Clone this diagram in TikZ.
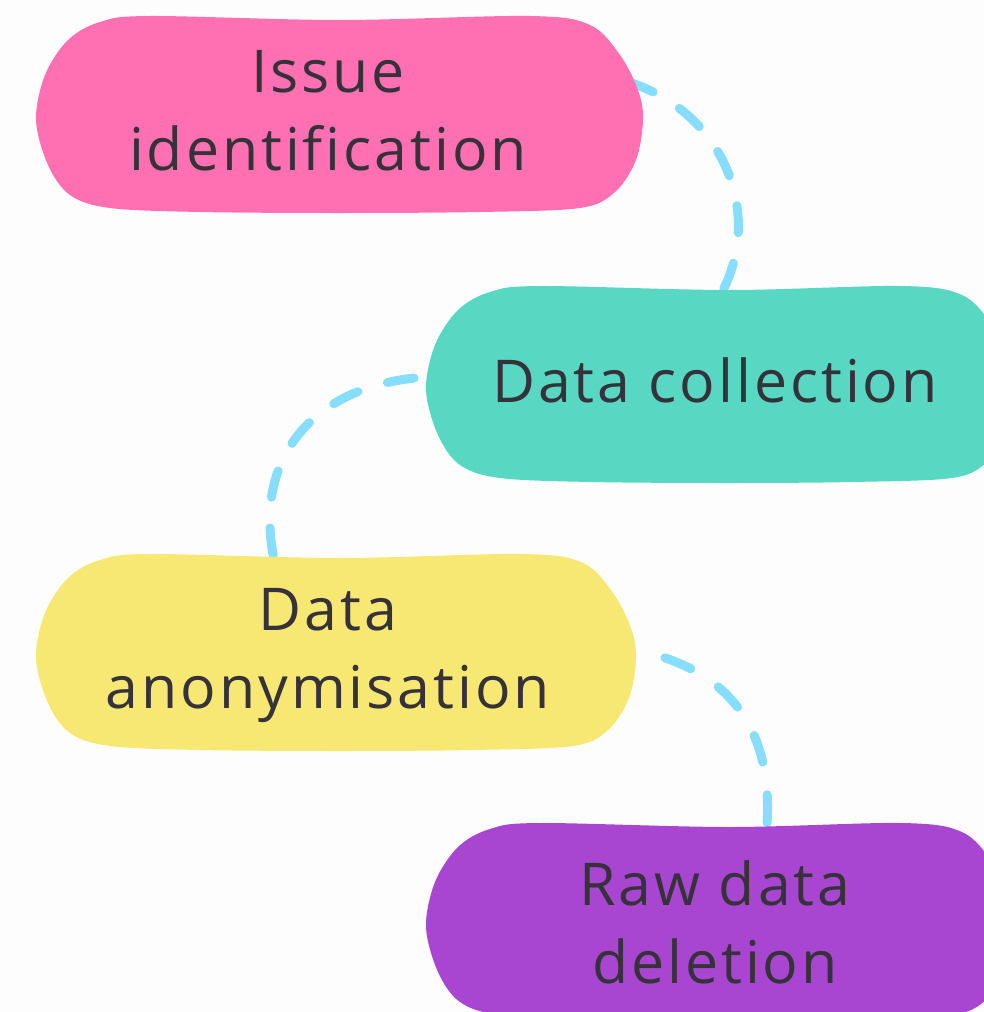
\documentclass[tikz,border=0pt]{standalone}
\usepackage{fontspec}
\setmainfont{Open Sans}[Ligatures={NoCommon,NoRequired}, LetterSpace=5]
\definecolor{pagebg}{HTML}{FDFDFD}
\definecolor{pinkfill}{HTML}{FF70B3}
\definecolor{tealfill}{HTML}{58D7C2}
\definecolor{yellowfill}{HTML}{F6E872}
\definecolor{purplefill}{HTML}{A946D1}
\definecolor{linkblue}{HTML}{86DEFC}
\definecolor{inkdark}{HTML}{35323A}
\tikzset{
  link/.style={draw=linkblue, line width=9pt, line cap=round,
    dash pattern=on 27pt off 31pt},
  lbl/.style={text=inkdark, align=center, inner sep=0pt,
    font=\fontsize{59}{78}\selectfont},
}
% rounded, slightly wobbly pill; #1 colour, #2 left, #3 top, #4 width
\newcommand{\blobfill}[4]{%
  \begin{scope}[shift={(#2,#3)}]
    \fill[#1] plot[smooth cycle, tension=0.55] coordinates {
      (115,1) (305,5) (#4-113,1) (#4-53,10) (#4-23,40) (#4-5,75)
      (#4,105) (#4-7,145) (#4-28,177) (#4-63,193) (#4-163,197)
      (305,198) (165,197) (75,193) (35,180) (13,150) (1,105)
      (10,60) (33,25) (65,7)};
  \end{scope}}
\begin{document}
\begin{tikzpicture}[x=1pt,y=-1pt]
  \fill[pagebg] (0,0) rectangle (984,1012);
  \useasboundingbox (0,0) rectangle (984,1012);

  % connector end points
  \coordinate (a1) at (628,82);
  \coordinate (b1) at (722,292);
  \coordinate (a2) at (428,377);
  \coordinate (b2) at (280,582);
  \coordinate (a3) at (636,650);
  \coordinate (b3) at (764,852);

  % dashed links, drawn beneath the pills
  \draw[link] (a1) .. controls (720,110) and (765,210) .. (b1);
  \draw[link, dash phase=44pt] (a2) .. controls (310,383) and (243,465) .. (b2);
  \draw[link, dash pattern=on 28pt off 33pt, dash phase=31pt]
    (a3) .. controls (742,672) and (780,745) .. (b3);

  % pills
  \blobfill{pinkfill}{35}{15}{608}
  \blobfill{tealfill}{425}{285}{590}
  \blobfill{yellowfill}{35}{553}{601}
  \blobfill{purplefill}{425}{822}{590}

  % labels
  \node[lbl, anchor=base] (issue) at (328,170) {Issue\\identification};
  \node[lbl, anchor=base] (collect) at (715,402) {Data collection};
  \node[lbl, anchor=base] (anon) at (328,708) {Data\\anonymisation};
  \node[lbl, anchor=base] (delete) at (715,983) {Raw data\\deletion};
\end{tikzpicture}
\end{document}
